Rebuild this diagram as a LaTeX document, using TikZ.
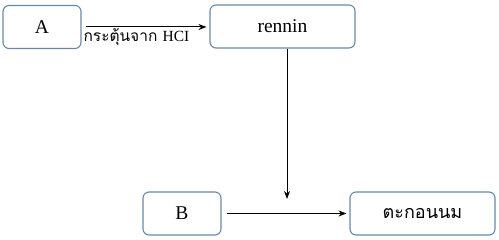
\documentclass[tikz,border=0pt]{standalone}
\usepackage{fontspec}
\setmainfont{Liberation Serif}
\newfontfamily\thaifont[Script=Thai]{Loma}
\usepackage{tikz}
\usetikzlibrary{arrows.meta,positioning}
\definecolor{boxline}{HTML}{6A88A6}

\begin{document}
\begin{tikzpicture}[
  x=1pt, y=1pt,
  font=\fontsize{19.5}{22}\selectfont,
  every node/.style={align=center},
  box/.style={draw=boxline, line width=1.1pt, rounded corners=6pt, minimum height=43pt, inner sep=2pt},
  small/.style={box, minimum width=78pt},
  wide/.style={box, minimum width=145pt},
  arr/.style={-{Stealth[length=8pt,width=6pt]}, line width=1pt}
]
\useasboundingbox (0,0) rectangle (499,240);
\node[small] (a) at (42,213) {A};
\node[wide] (rennin) at (282.5,213.5) {rennin};
\node[small] (b) at (182,26.5) {B};
\node[wide] (curd) at (422.5,26.5) {\fontsize{18}{20}\thaifont ตะกอนนม};
\coordinate (meet) at ([xshift=4.5pt]rennin.south |- 0,41);
\draw[arr, shorten <=4pt, shorten >=3pt] (a.east |- 0,213) -- node[pos=0, below right, inner sep=1.5pt, font=\fontsize{15.5}{17}\selectfont] {\thaifont กระตุ้นจาก \rmfamily HCI} (rennin.west |- 0,213);
\draw[arr] ([xshift=4.5pt]rennin.south) -- (meet);
\draw[arr, shorten <=5pt, shorten >=3pt] (b) -- (curd);
\end{tikzpicture}
\end{document}
